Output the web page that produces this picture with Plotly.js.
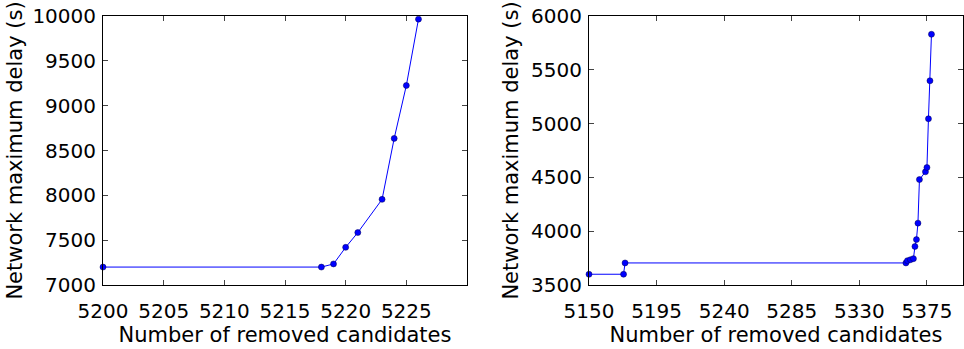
<!DOCTYPE html>
<html>
<head>
<meta charset="utf-8">
<script src="https://cdn.plot.ly/plotly-3.0.1.min.js"></script>
<style>html,body{margin:0;padding:0;background:#fff;}#chart{width:964px;height:349px;}</style>
</head>
<body>
<div id="chart"></div>
<script>
// Left panel
const leftRemoved = [5200, 5218, 5219, 5220, 5221, 5223, 5224, 5225, 5226];
const leftDelay   = [7200, 7200, 7235, 7420, 7585, 7955, 8635, 9225, 9965];
// Right panel
const rightRemoved = [5150, 5173, 5174, 5361, 5362, 5364, 5366, 5367, 5368, 5369, 5370, 5374, 5375, 5376, 5377, 5378];
const rightDelay   = [3600, 3600, 3705, 3705, 3726, 3735, 3745, 3858, 3922, 4075, 4480, 4552, 4592, 5045, 5398, 5830];

const xTitle = "Number of removed candidates";
const yTitle = "Network maximum delay (s)";

const W = 964;
const fontFam = "DejaVu Sans, sans-serif";

function mk(x, y, xa, ya) {
  return {
    x: x, y: y, xaxis: xa, yaxis: ya, type: 'scatter', mode: 'lines+markers',
    line: {color: 'rgb(0,0,255)', width: 1},
    marker: {color: 'rgb(0,0,255)', size: 6, line: {color: 'rgb(0,0,80)', width: 0.5}},
    showlegend: false, hoverinfo: 'x+y', cliponaxis: false
  };
}

const axBase = {
  showgrid: false, zeroline: false, showline: true, linecolor: '#000', linewidth: 1,
  mirror: 'allticks', ticks: 'inside', ticklen: 5, tickcolor: '#444', tickwidth: 1,
  tickformat: 'd',
  tickfont: {family: fontFam, size: 20, color: '#000'}
};
const titleFont = {family: fontFam, size: 21, color: '#000'};

const layout = {
  width: 964, height: 349,
  margin: {l: 0, r: 0, t: 16, b: 64},
  paper_bgcolor: '#fff', plot_bgcolor: '#fff',
  font: {family: fontFam, color: '#000'},
  xaxis: Object.assign({}, axBase, {
    domain: [103/W, 467/W], range: [5200, 5230],
    tickvals: [5200, 5205, 5210, 5215, 5220, 5225], ticklabelstandoff: 8,
    title: {text: xTitle, font: titleFont, standoff: 2},
    anchor: 'y'
  }),
  yaxis: Object.assign({}, axBase, {
    domain: [0, 1], range: [7000, 10000], dtick: 500, tick0: 7000,
    ticklabelstandoff: 2,
    title: {text: yTitle, font: titleFont, standoff: 4},
    anchor: 'x'
  }),
  xaxis2: Object.assign({}, axBase, {
    domain: [589/W, 963/W], range: [5150, 5399],
    tickvals: [5150, 5195, 5240, 5285, 5330, 5375], ticklabelstandoff: 8,
    title: {text: xTitle, font: titleFont, standoff: 2},
    anchor: 'y2'
  }),
  yaxis2: Object.assign({}, axBase, {
    domain: [0, 1], range: [3500, 6000], dtick: 500, tick0: 3500,
    ticklabelstandoff: 2,
    title: {text: yTitle, font: titleFont, standoff: 6},
    anchor: 'x2'
  })
};

Plotly.newPlot('chart', [
  mk(leftRemoved, leftDelay, 'x', 'y'),
  mk(rightRemoved, rightDelay, 'x2', 'y2')
], layout, {displayModeBar: false, staticPlot: true});
</script>
</body>
</html>
